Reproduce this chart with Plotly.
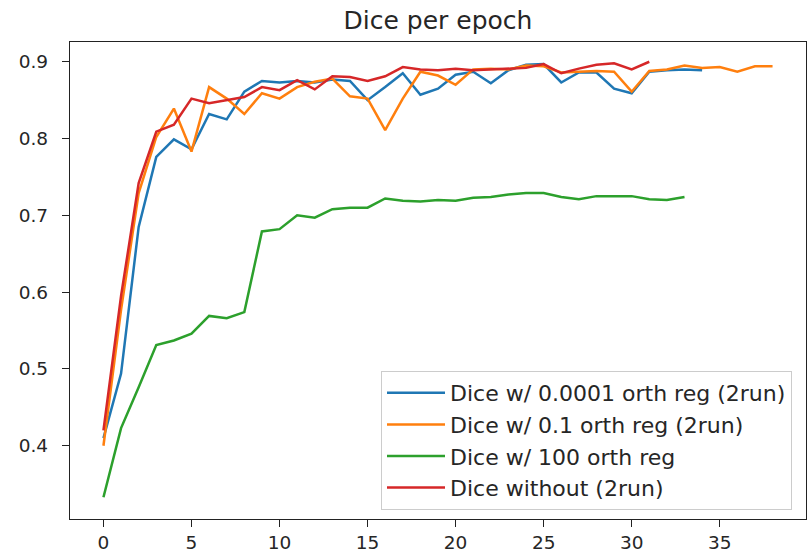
import plotly.graph_objects as go

# Data
dice_1e4 = [0.410, 0.494, 0.685, 0.776, 0.799, 0.786, 0.832, 0.825, 0.861, 0.875,
            0.873, 0.875, 0.873, 0.877, 0.875, 0.850, 0.867, 0.885, 0.857, 0.865,
            0.883, 0.887, 0.872, 0.889, 0.896, 0.897, 0.873, 0.886, 0.886, 0.865,
            0.859, 0.887, 0.889, 0.890, 0.889]
dice_01 = [0.400, 0.577, 0.729, 0.802, 0.839, 0.783, 0.867, 0.852, 0.832, 0.859,
           0.852, 0.867, 0.874, 0.878, 0.855, 0.852, 0.811, 0.852, 0.887, 0.882,
           0.870, 0.890, 0.891, 0.890, 0.895, 0.894, 0.886, 0.887, 0.888, 0.887,
           0.861, 0.888, 0.890, 0.895, 0.892, 0.893, 0.887, 0.894, 0.894]
dice_100 = [0.333, 0.423, 0.476, 0.531, 0.537, 0.546, 0.569, 0.566, 0.574, 0.679,
            0.682, 0.700, 0.697, 0.708, 0.710, 0.710, 0.722, 0.719, 0.718, 0.720,
            0.719, 0.723, 0.724, 0.727, 0.729, 0.729, 0.724, 0.721, 0.725, 0.725,
            0.725, 0.721, 0.720, 0.724]
dice_without = [0.420, 0.595, 0.742, 0.809, 0.818, 0.852, 0.846, 0.850, 0.854, 0.867,
                0.863, 0.876, 0.864, 0.881, 0.880, 0.875, 0.881, 0.893, 0.890, 0.889,
                0.891, 0.889, 0.890, 0.891, 0.892, 0.897, 0.885, 0.891, 0.896, 0.898,
                0.890, 0.900]

series_names = ["Dice w/ 0.0001 orth reg (2run)", "Dice w/ 0.1 orth reg (2run)",
                "Dice w/ 100 orth reg", "Dice without (2run)"]
series_values = [dice_1e4, dice_01, dice_100, dice_without]
colors = ["#1f77b4", "#ff7f0e", "#2ca02c", "#d62728"]

x_ticks = [0, 5, 10, 15, 20, 25, 30, 35]
y_ticks = [0.4, 0.5, 0.6, 0.7, 0.8, 0.9]
y_tick_labels = ["0.4", "0.5", "0.6", "0.7", "0.8", "0.9"]

fig = go.Figure()
for i, (name, vals, col) in enumerate(zip(series_names, series_values, colors)):
    fig.add_trace(go.Scatter(
        x=list(range(len(vals))), y=vals, mode="lines", name=name,
        line=dict(color=col, width=2.5), legendgroup=f"g{i}",
    ))

font_family = "DejaVu Sans"
axis_common = dict(
    showline=True, mirror=True, linecolor="#222222", linewidth=1.3,
    ticks="outside", ticklen=7, tickwidth=1.3, tickcolor="#222222",
    showgrid=False, zeroline=False, automargin=False,
    tickfont=dict(family=font_family, size=18.5, color="#262626"),
)

fig.update_layout(
    width=807, height=556,
    margin=dict(l=70, r=1, t=42, b=37, autoexpand=False),
    paper_bgcolor="white", plot_bgcolor="white",
    title=dict(text="Dice per epoch", x=(70 + 806) / 2 / 807, xanchor="center",
               y=1 - 20 / 556, yanchor="middle", yref="container",
               font=dict(family=font_family, size=25, color="#262626")),
    xaxis=dict(range=[-1.9, 39.9], tickvals=x_ticks, ticktext=[str(t) for t in x_ticks],
               **axis_common),
    yaxis=dict(range=[0.3046, 0.9257], tickvals=y_ticks, ticktext=y_tick_labels,
               ticklabelstandoff=10, **axis_common),
    legend=dict(x=(792 - 70) / 736, y=(519 - 510) / 477, xanchor="right", yanchor="bottom",
                bgcolor="rgba(255,255,255,0.8)", bordercolor="#cccccc", borderwidth=1,
                font=dict(family=font_family, size=22, color="#262626"),
                tracegroupgap=0, itemwidth=58),
    showlegend=True,
)

fig.write_html("out.html", config={"displayModeBar": False},
               post_script="document.body.style.margin='0';")
